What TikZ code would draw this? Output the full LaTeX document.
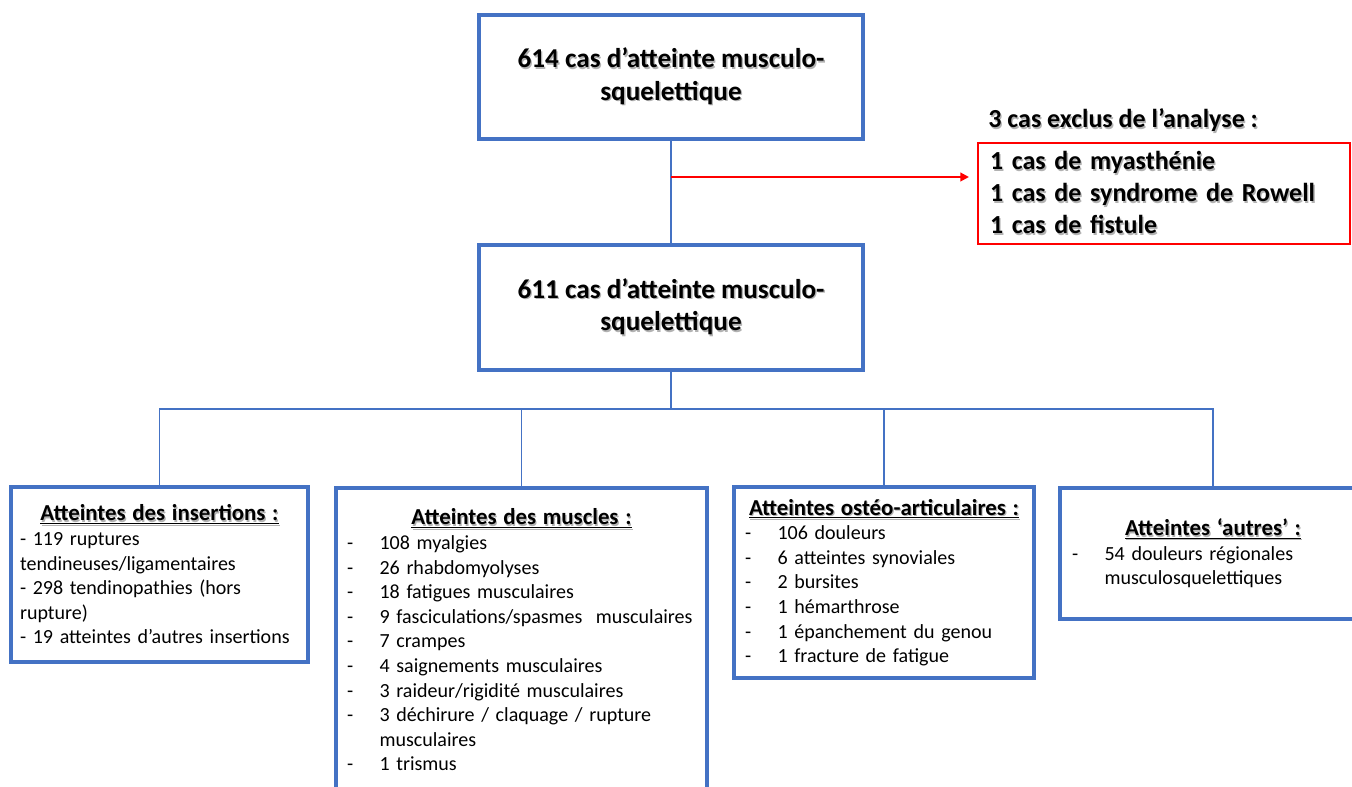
\documentclass[tikz,border=0pt]{standalone}
\usepackage{fontspec}
\setmainfont{Carlito}
\usetikzlibrary{arrows.meta}
\definecolor{bleu}{HTML}{4472C4}
\definecolor{rouge}{HTML}{FF0000}
\newcommand{\tiret}{\makebox[0.65cm][l]{-}}
\newcommand{\ombre}[1]{\leavevmode\rlap{\hspace{0.05em}\raisebox{-0.06em}{\color{black!30}#1}}#1}
\newcommand{\titre}[1]{\makebox[\linewidth]{\fontsize{13}{14}\selectfont\ombre{\underline{\textbf{#1}}}}}

\begin{document}
\begin{tikzpicture}[x=0.02cm,y=-0.02cm,
    grande/.style={draw=bleu,line width=2pt,align=center,minimum width=7.68cm,
      font=\fontsize{15.5}{18.6}\selectfont\bfseries},
    categ/.style={draw=bleu,line width=2pt,align=left,inner ysep=0pt,
      font=\fontsize{11.4}{14}\selectfont},
    lien/.style={draw=bleu,line width=1.1pt},
    fleche/.style={draw=rouge,line width=1.1pt,-{Triangle[length=1.7mm,width=1.7mm]}}]
    \useasboundingbox (0,0) rectangle (1352,787);
    % les deux grandes boites
    \node[grande,minimum height=2.48cm] (n614) at (671,77) {\ombre{614 cas d’atteinte musculo-}\\\ombre{squelettique}};
    \node[grande,minimum height=2.5cm] (n611) at (671,307.5) {\ombre{611 cas d’atteinte musculo-}\\\ombre{squelettique}};
    % cas exclus
    \node[draw=rouge,line width=1.2pt,align=left,inner xsep=0.24cm,text width=6.96cm,minimum height=2.02cm,
      font=\fontsize{14.8}{18.2}\selectfont\bfseries] (excl) at (1164,193.5)
      {\ombre{1 cas de myasthénie}\\\ombre{1 cas de syndrome de Rowell}\\\ombre{1 cas de fistule}};
    \node[anchor=base west,inner sep=0pt,font=\fontsize{14.8}{18.2}\selectfont\bfseries] (exclt) at (988,128)
      {\ombre{3 cas exclus de l’analyse :}};
    % categories
    \node[categ,inner xsep=0.18cm,text width=5.58cm,minimum height=3.5cm] (cat1) at (159.5,574.5)
      {\titre{Atteintes des insertions :}\\
       - 119 ruptures\\
       tendineuses/ligamentaires\\
       - 298 tendinopathies (hors\\
       rupture)\\
       - 19 atteintes d’autres insertions};
    \node[categ,inner xsep=0.22cm,text width=6.98cm,minimum height=6.08cm] (cat2) at (521.5,640)
      {\titre{Atteintes des muscles :}\\
       \tiret 108 myalgies\\
       \tiret 26 rhabdomyolyses\\
       \tiret 18 fatigues musculaires\\
       \tiret 9 fasciculations/spasmes\ \ musculaires\\
       \tiret 7 crampes\\
       \tiret 4 saignements musculaires\\
       \tiret 3 raideur/rigidité musculaires\\
       \tiret 3 déchirure / claquage / rupture\\
       \hspace*{0.65cm}musculaires\\
       \tiret 1 trismus};
    \node[categ,inner xsep=0.22cm,text width=5.56cm,minimum height=3.82cm] (cat3) at (884,582.5)
      {\titre{Atteintes ostéo-articulaires :}\\
       \tiret 106 douleurs\\
       \tiret 6 atteintes synoviales\\
       \tiret 2 bursites\\
       \tiret 1 hémarthrose\\
       \tiret 1 épanchement du genou\\
       \tiret 1 fracture de fatigue};
    \node[categ,inner xsep=0.24cm,text width=5.64cm,minimum height=2.62cm] (cat4) at (1213,553.5)
      {\titre{Atteintes ‘autres’ :}\\
       \tiret 54 douleurs régionales\\
       \hspace*{0.65cm}musculosquelettiques};
    % liens
    \coordinate (dep) at (671,177);
    \coordinate (bar) at (671,409);
    \draw[lien] (n614.south) -- (n611.north);
    \draw[fleche,shorten >=0.16cm] (dep) -- (dep -| excl.west);
    \draw[lien] (n611.south) -- (bar);
    \foreach \c in {cat1,cat2,cat3,cat4}
        \draw[lien] (bar) -| (\c.north);
\end{tikzpicture}
\end{document}
